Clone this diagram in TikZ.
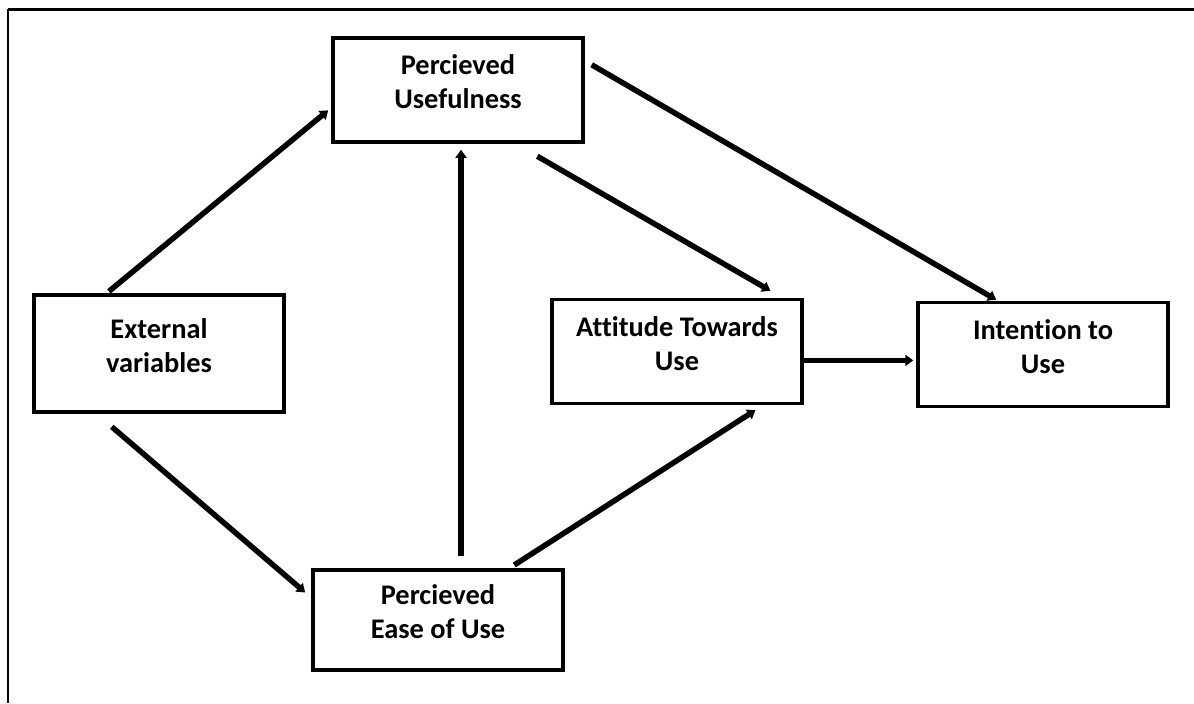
\documentclass[tikz,border=0pt]{standalone}
\usepackage{fontspec}
\setmainfont[Ligatures=NoCommon]{Carlito}
\usepackage{tikz}
\usetikzlibrary{arrows.meta,positioning}

\begin{document}
\begin{tikzpicture}[x=0.5pt,y=-0.5pt,% pixel grid of the page, y runs down
			every node/.style={
				align=center,  		% so that "\\" breaks the line
				font=\fontsize{14.2}{17}\selectfont\bfseries
			},
			box/.style={rectangle,draw=black,line width=1.75pt,
				minimum width=125pt,minimum height=52pt,
				text depth=8pt		% lifts the text a little above the middle
			},
			every edge/.style={draw,line width=2.75pt},
			>={Triangle[length=4pt,width=5.5pt]}
		]
		\useasboundingbox (0,0) rectangle (1194,703);
		% open frame, top and left only
		\draw[line width=1.5pt] (1194,9) -- (8,9);
		\draw[line width=1pt] (8,9) -- (8,703);
		\node[box](PU) at (458,90){Percieved\\Usefulness};
		\node[box,minimum height=58.5pt](EV) at (159,353.5){External\\variables};
		\node[box](ATU) at (677,351.5){Attitude Towards\\Use};
		\node[box](IU) at (1043,354.5){Intention to\\Use};
		\node[box,minimum height=50pt](PEU) at (438,620){Percieved\\Ease of Use};
		\path[->]
		(EV.131)edge [shorten <=1.5pt,shorten >=2pt]	(PU.188)
		(EV.224)edge [shorten <=10pt,shorten >=4pt]	(PEU.170)
		(PEU.66)edge [shorten <=6pt,shorten >=3pt]	(PEU.66 |- PU.south)
		(PEU.36)edge [shorten <=3pt,shorten >=4.5pt]	(ATU.328)
		(PU.317)edge [shorten <=12.5pt,shorten >=7pt]	(ATU.27)
		(PU.13)edge [shorten <=4pt,shorten >=1pt]	(IU.130)
		(ATU.356)edge [shorten >=1.5pt]	(ATU.356 -| IU.west)
		;
	\end{tikzpicture}
\end{document}
